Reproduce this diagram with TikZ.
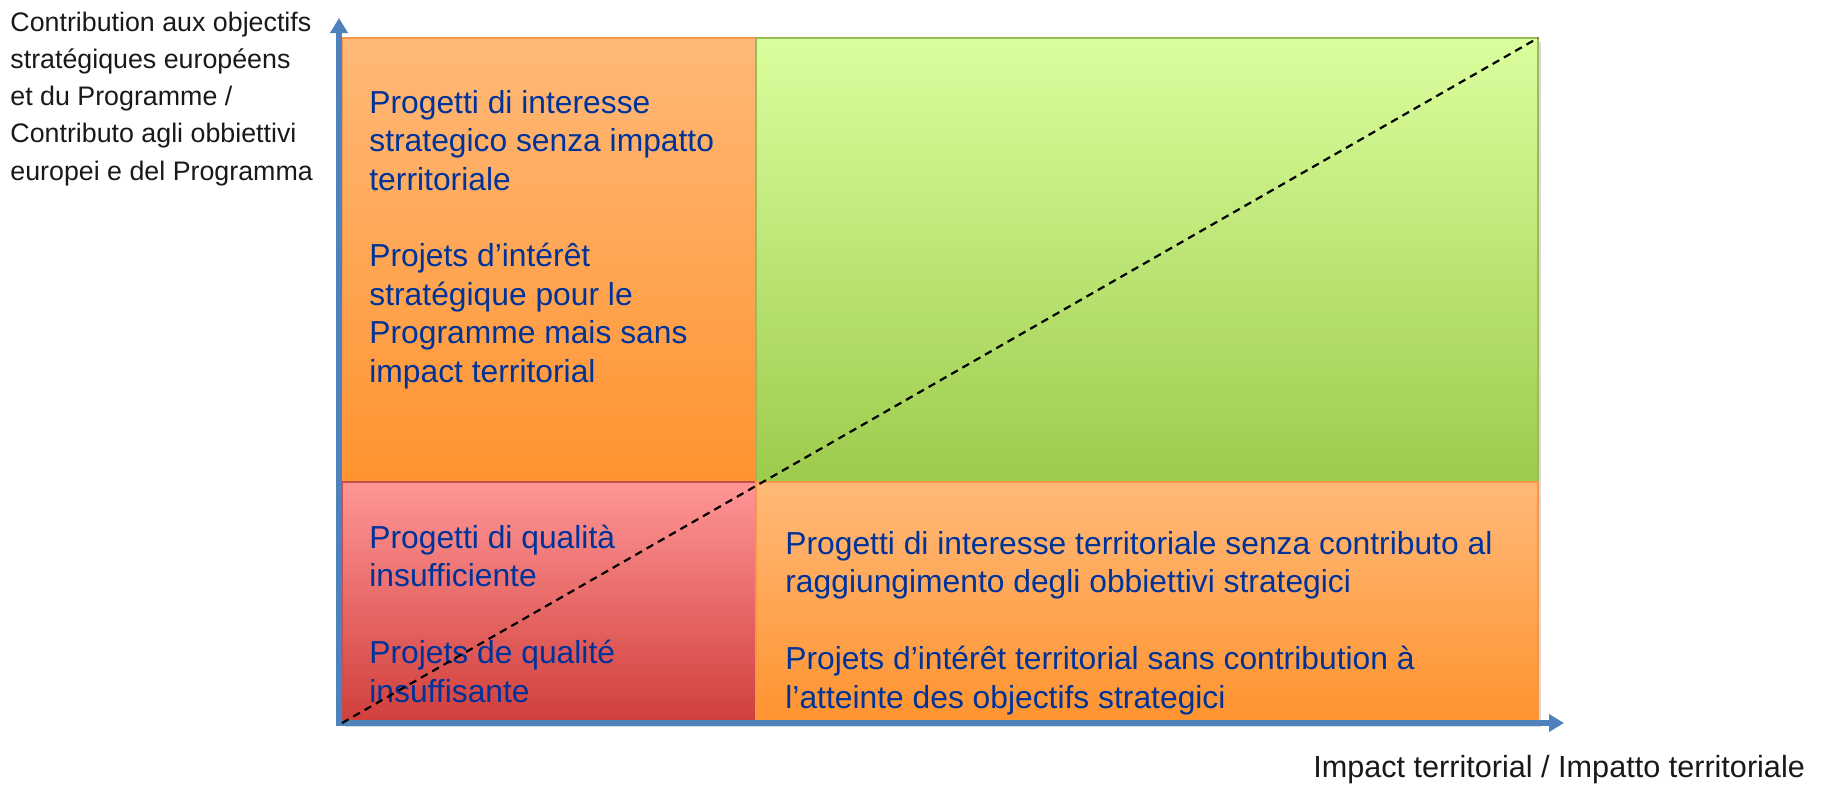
\documentclass[tikz,border=0pt]{standalone}
\usepackage{fontspec}
\setmainfont{Liberation Sans}
\usetikzlibrary{arrows.meta,shadows}
\definecolor{txtblue}{RGB}{0,51,153}
\definecolor{axisblue}{RGB}{79,129,189}
\definecolor{orTop}{RGB}{255,185,120}
\definecolor{orBot}{RGB}{255,147,47}
\definecolor{orLine}{RGB}{247,150,70}
\definecolor{grTop}{RGB}{219,254,158}
\definecolor{grBot}{RGB}{157,203,76}
\definecolor{grLine}{RGB}{155,187,89}
\definecolor{rdTop}{RGB}{255,150,150}
\definecolor{rdBot}{RGB}{208,62,58}
\definecolor{rdLine}{RGB}{192,80,77}
\tikzset{
  quad/.style={rectangle, inner sep=0pt, outer sep=0pt, anchor=north west, line width=0.6pt,
    drop shadow={opacity=0.3, shadow xshift=1.5pt, shadow yshift=-1.8pt}},
  orquad/.style={quad, top color=orTop, bottom color=orBot, draw=orLine},
  grquad/.style={quad, top color=grTop, bottom color=grBot, draw=grLine},
  rdquad/.style={quad, top color=rdTop, bottom color=rdBot, draw=rdLine},
  boxtxt/.style={anchor=base west, align=left, inner sep=0pt, text=txtblue,
    font=\fontsize{15.9}{19.2}\selectfont},
  axislbl/.style={anchor=base west, align=left, inner sep=0pt, text=black!90},
  axisline/.style={draw=axisblue, line width=2.6pt, line join=miter,
    {Triangle[length=7.5pt,width=8.5pt]}-{Triangle[length=7.5pt,width=8.5pt]}},
  diag/.style={draw=black, line width=1.1pt, dash pattern=on 3.8pt off 2.7pt}
}
\begin{document}
\begin{tikzpicture}[x=0.5pt,y=-0.5pt]
\useasboundingbox (0,0) rectangle (1827,784);
% quadrants
\node[orquad, minimum width=207pt, minimum height=222pt] (tl) at (342,38) {};
\node[grquad, minimum width=391pt, minimum height=222pt] (tr) at (756,38) {};
\node[rdquad, minimum width=207pt, minimum height=120.5pt] (bl) at (342,482) {};
\node[orquad, minimum width=391pt, minimum height=120.5pt] (br) at (756,482) {};
% axes
\coordinate (o) at (339,723);
\coordinate (ytip) at (339,18);
\coordinate (xtip) at (1564,723);
\draw[axisline] (ytip) -- (o) -- (xtip);
% texts (anchored at the baseline of the last line)
\node[boxtxt] (tltxt) at (369,382) {Progetti di interesse\\strategico senza impatto\\territoriale\\[19.2pt]Projets d’intérêt\\stratégique pour le\\Programme mais sans\\impact territorial};
\node[boxtxt] (bltxt) at (369,702) {Progetti di qualità\\insufficiente\\[19.2pt]Projets de qualité\\insuffisante};
\node[boxtxt] (brtxt) at (785,708) {Progetti di interesse territoriale senza contributo al\\raggiungimento degli obbiettivi strategici\\[19.2pt]Projets d’intérêt territorial sans contribution à\\l’atteinte des objectifs strategici};
\node[axislbl, font=\fontsize{13.4}{18.6}\selectfont] (ylbl) at (10,180) {Contribution aux objectifs\\stratégiques européens\\et du Programme /\\Contributo agli obbiettivi\\europei e del Programma};
\node[axislbl, font=\fontsize{15.3}{18}\selectfont] (xlbl) at (1313,777) {Impact territorial / Impatto territoriale};
% diagonal
\draw[diag] (bl.south west) -- (tr.north east);
\end{tikzpicture}
\end{document}
